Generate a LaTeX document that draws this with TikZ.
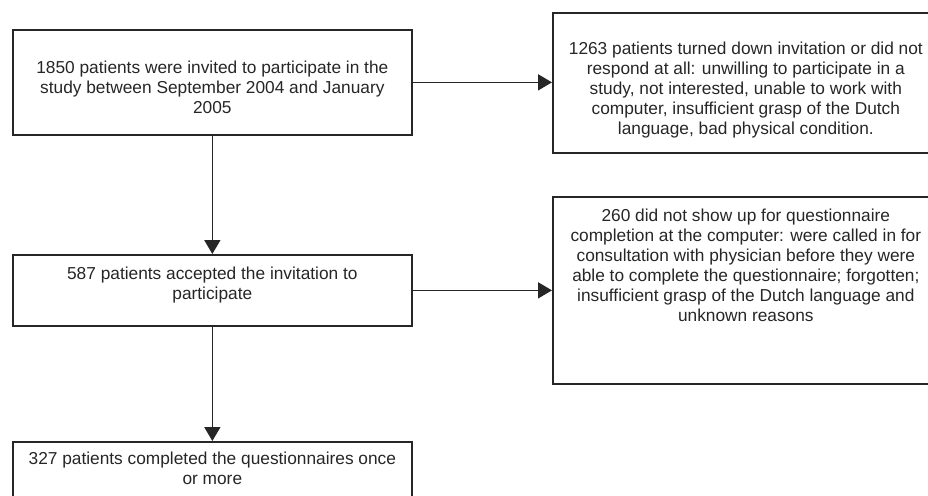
\documentclass[tikz,border=0pt]{standalone}
\usepackage{fontspec}
\setmainfont{Liberation Sans}
\usetikzlibrary{positioning,arrows.meta}

\tikzset{
	flowbox/.style={draw=black!85, line width=0.85pt, rectangle, inner sep=0pt, anchor=north west},
	flowtext/.style={inner sep=0pt, align=center, font=\fontsize{8.65}{10}\selectfont, text=black!85},
	flowarrow/.style={draw=black!85, line width=0.85pt, -{Triangle[length=7pt,width=8pt]}}
}

\begin{document}
\begin{tikzpicture}[x=0.5pt, y=-0.5pt]
			%%%%% START %%%%%
			
			\useasboundingbox (0, 0) rectangle (928, 495);
			\clip (0, 0) rectangle (928, 495);
			
			% left column
			\node[flowbox, minimum width=199.5pt, minimum height=52.5pt] (invited) at (12, 29) {};
			\node[flowtext, below=15.75pt of invited.north] (invitedtxt) {1850 patients were invited to participate in the\\study between September 2004 and January\\2005};
			
			\node[flowbox, minimum width=199.5pt, minimum height=35.5pt] (accepted) at (12, 254) {};
			\node[flowtext, below=6.25pt of accepted.north] (acceptedtxt) {587 patients accepted the invitation to\\participate};
			
			\node[flowbox, minimum width=199.5pt, minimum height=40pt] (completed) at (12, 441) {};
			\node[flowtext, below=5.25pt of completed.north] (completedtxt) {327 patients completed the questionnaires once\\or more};
			
			% right column
			\node[flowbox, minimum width=193pt, minimum height=70pt] (declined) at (552, 12) {};
			\node[flowtext, below=14.75pt of declined.north] (declinedtxt) {1263 patients turned down invitation or did not\\respond at all: unwilling to participate in a\\study, not interested, unable to work with\\computer, insufficient grasp of the Dutch\\language, bad physical condition.};
			
			\node[flowbox, minimum width=193pt, minimum height=93.5pt] (noshow) at (552, 196) {};
			\node[flowtext, below=6.25pt of noshow.north] (noshowtxt) {260 did not show up for questionnaire\\completion at the computer: were called in for\\consultation with physician before they were\\able to complete the questionnaire; forgotten;\\insufficient grasp of the Dutch language and\\unknown reasons};
			
			% arrows
			\draw[flowarrow] (invited.south) -- (accepted.north);
			\draw[flowarrow] (accepted.south) -- (completed.north);
			\draw[flowarrow] (invited.east) -- (invited.east -| declined.west);
			\draw[flowarrow] (accepted.east) -- (accepted.east -| noshow.west);
			
			%%%%% END %%%%%
\end{tikzpicture}
\end{document}
